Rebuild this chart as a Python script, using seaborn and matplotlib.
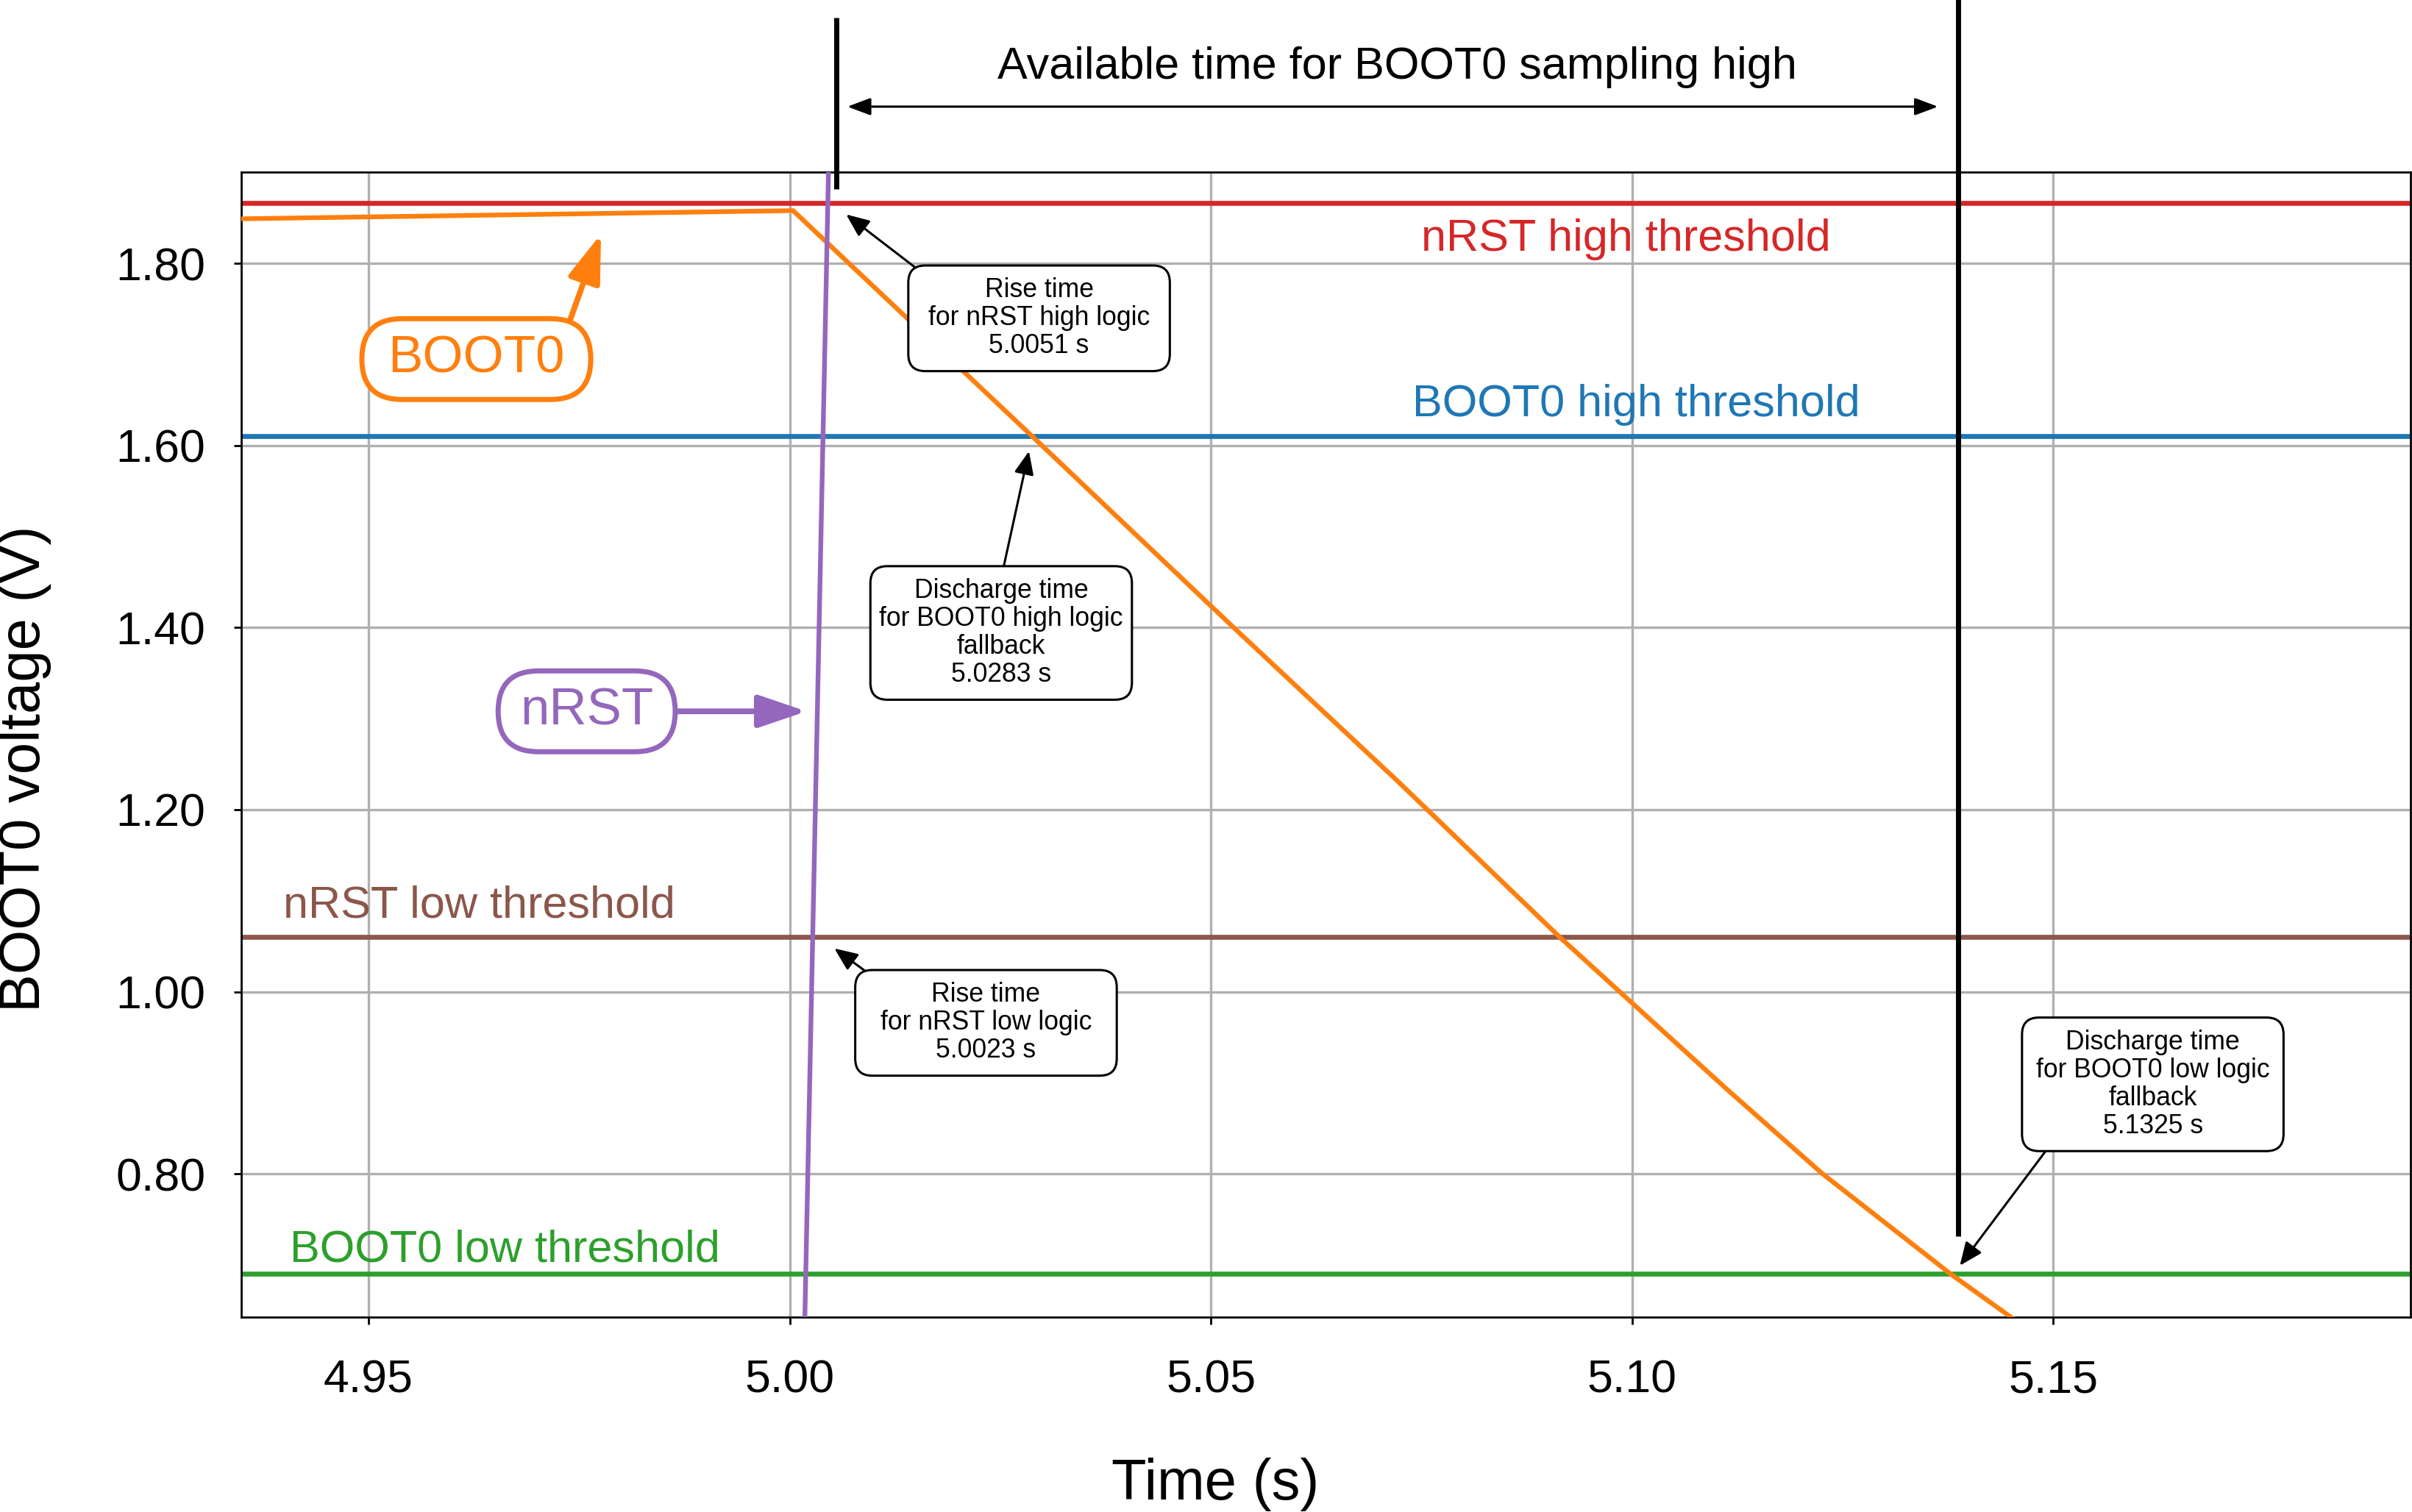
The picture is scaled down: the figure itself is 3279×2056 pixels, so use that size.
import matplotlib
matplotlib.use("Agg")
import matplotlib.pyplot as plt
from matplotlib.ticker import MultipleLocator, FormatStrFormatter
from matplotlib.path import Path
import pandas as pd
import seaborn as sns

# ---------------- data ----------------
boot0_t = [4.9349, 5.0004, 5.0288, 5.0527, 5.0722, 5.0914, 5.1082, 5.1114, 5.1226, 5.1378, 5.1452]
boot0_v = [1.849, 1.858, 1.610, 1.400, 1.231, 1.060, 0.9185, 0.8916, 0.800, 0.690, 0.641]

nrst_t = [5.0018, 5.0046]
nrst_v = [0.6426, 1.900]

threshold_names = ["nRST high threshold", "BOOT0 high threshold",
                   "nRST low threshold", "BOOT0 low threshold"]
threshold_values = [1.8665, 1.610, 1.060, 0.690]
threshold_colors = ["#d62728", "#1f77b4", "#8c564b", "#2ca02c"]
threshold_label_x = [5.0993, 5.1005, 4.9399, 4.9407]
threshold_label_y = [1.826, 1.645, 1.0944, 0.7161]
threshold_label_ha = ["center", "center", "left", "left"]

window_t = [5.0055, 5.1387]
window_bottom = [1.8818, 0.7314]
window_top = [2.0697, 2.10]
window_arrow_x = [5.00685, 5.1363]
window_arrow_y = 1.9722
window_title = "Available time for BOOT0 sampling high"
window_title_pos = (5.0721, 2.0032)

ann_texts = ["Rise time\nfor nRST high logic\n5.0051 s",
             "Discharge time\nfor BOOT0 high logic\nfallback\n5.0283 s",
             "Rise time\nfor nRST low logic\n5.0023 s",
             "Discharge time\nfor BOOT0 low logic\nfallback\n5.1325 s"]
ann_tip_t = [5.0067, 5.0284, 5.0053, 5.1389]
ann_tip_v = [1.8538, 1.5937, 1.0476, 0.6992]
ann_box_t = [5.0296, 5.0251, 5.0233, 5.1618]
ann_box_v = [1.7397, 1.3941, 0.9658, 0.8983]
ann_relpos = [(0.0, 1.0), (0.5, 1.0), (0.0, 1.0), (0.08, 0.0)]

series_labels = ["BOOT0", "nRST"]
series_colors = ["#ff7f0e", "#9467bd"]
series_label_pos = [(4.9628, 1.6949), (4.9759, 1.308)]
series_arrow_tip = [(4.9776, 1.8323), (5.0020, 1.308)]
series_relpos = [(1.0, 1.0), (1.0, 0.5)]

xlim = (4.9349, 5.1924)
ylim = (0.6426, 1.900)


# ---------------- rounded box with separate x / y padding ----------------
class RoundBox:
    def __init__(self, pad_x, pad_y, rounding, fixed_width=None):
        self.pad = pad_y
        self.pad_x = pad_x
        self.pad_y = pad_y
        self.rounding = rounding
        self.fixed_width = fixed_width

    def __call__(self, x0, y0, width, height, mutation_size):
        py = self.pad_y * mutation_size
        if self.fixed_width is not None:
            w = self.fixed_width * mutation_size
            x0 = x0 + width / 2 - w / 2
            width = w
        else:
            px = self.pad_x * mutation_size
            x0 -= px
            width += 2 * px
        y0 -= py
        height += 2 * py
        x1, y1 = x0 + width, y0 + height
        r = min(self.rounding * mutation_size, width / 2, height / 2)
        cp = [(x0 + r, y0), (x1 - r, y0), (x1, y0), (x1, y0 + r),
              (x1, y1 - r), (x1, y1), (x1 - r, y1), (x0 + r, y1),
              (x0, y1), (x0, y1 - r), (x0, y0 + r), (x0, y0),
              (x0 + r, y0), (x0 + r, y0)]
        codes = [Path.MOVETO, Path.LINETO, Path.CURVE3, Path.CURVE3,
                 Path.LINETO, Path.CURVE3, Path.CURVE3, Path.LINETO,
                 Path.CURVE3, Path.CURVE3, Path.LINETO, Path.CURVE3,
                 Path.CURVE3, Path.CLOSEPOLY]
        return Path(cp, codes)


# ---------------- styling ----------------
sns.set_theme(style="ticks")
plt.rcParams['font.family'] = ['Liberation Sans', 'DejaVu Sans']
plt.rcParams['axes.edgecolor'] = 'black'
plt.rcParams['axes.labelcolor'] = 'black'
plt.rcParams['xtick.color'] = 'black'
plt.rcParams['ytick.color'] = 'black'
plt.rcParams['text.color'] = 'black'

fig = plt.figure(figsize=(16.4, 10.28), dpi=200)
ax = fig.add_axes([0.1, 0.1289, 0.8991, 0.7571])

ax.grid(True, color='#b0b0b0', lw=1.2)
ax.set_axisbelow(True)

for v, c in zip(threshold_values, threshold_colors):
    ax.axhline(v, color=c, lw=2.4, zorder=2)
for name, c, x, y, ha in zip(threshold_names, threshold_colors,
                             threshold_label_x, threshold_label_y, threshold_label_ha):
    ax.text(x, y, name, color=c, fontsize=22, ha=ha, va='center', zorder=3)

df_boot = pd.DataFrame({'t': boot0_t, 'v': boot0_v})
df_nrst = pd.DataFrame({'t': nrst_t, 'v': nrst_v})
sns.lineplot(data=df_boot, x='t', y='v', color=series_colors[0], lw=2.3,
             ax=ax, sort=False, estimator=None, zorder=3)
sns.lineplot(data=df_nrst, x='t', y='v', color=series_colors[1], lw=2.3,
             ax=ax, sort=False, estimator=None, zorder=4)

for t, b, tp in zip(window_t, window_bottom, window_top):
    ax.plot([t, t], [b, tp], color='black', lw=2.5, clip_on=False, zorder=5,
            solid_capstyle='butt')

ax.annotate('', xy=(window_arrow_x[1], window_arrow_y),
            xytext=(window_arrow_x[0], window_arrow_y),
            arrowprops=dict(arrowstyle='<|-|>,head_length=0.4,head_width=0.15',
                            color='black', lw=1.1, shrinkA=0, shrinkB=0,
                            mutation_scale=24),
            annotation_clip=False)
ax.text(window_title_pos[0], window_title_pos[1], window_title,
        ha='center', va='baseline', fontsize=22.0, color='black', clip_on=False)

for txt, tt, tv, bt, bv, rp in zip(ann_texts, ann_tip_t, ann_tip_v,
                                   ann_box_t, ann_box_v, ann_relpos):
    ax.annotate(txt, xy=(tt, tv), xytext=(bt, bv), ha='center', va='center',
                fontsize=12.8, linespacing=1.11, zorder=6,
                bbox=dict(boxstyle=RoundBox(0.0, 0.46, 0.65, fixed_width=10.0),
                          fc='white', ec='black', lw=1.1),
                arrowprops=dict(arrowstyle='-|>,head_length=0.4,head_width=0.17',
                                color='black', lw=1.1, shrinkA=0, shrinkB=0,
                                mutation_scale=24, relpos=rp))

for lab, c, pos, tip, rp, px in zip(series_labels, series_colors, series_label_pos,
                                    series_arrow_tip, series_relpos, [0.5, 0.42]):
    ax.annotate(lab, xy=tip, xytext=pos, ha='center', va='center',
                fontsize=25.5, color=c, zorder=6,
                bbox=dict(boxstyle=RoundBox(px, 0.31, 0.78),
                          fc='white', ec=c, lw=2.5),
                arrowprops=dict(arrowstyle='-|>,head_length=0.5,head_width=0.17',
                                color=c, lw=2.8, shrinkA=0, shrinkB=0,
                                mutation_scale=40, relpos=rp))

ax.set_xlim(*xlim)
ax.set_ylim(*ylim)
ax.xaxis.set_major_locator(MultipleLocator(0.05))
ax.xaxis.set_major_formatter(FormatStrFormatter('%.2f'))
ax.yaxis.set_major_locator(MultipleLocator(0.2))
ax.yaxis.set_major_formatter(FormatStrFormatter('%.2f'))
ax.tick_params(labelsize=22.5, length=3.5, width=1.0, direction='out')
ax.tick_params(axis='x', pad=17)
ax.tick_params(axis='y', pad=14)
for s in ax.spines.values():
    s.set_linewidth(1.0)
    s.set_color('black')

ax.set_xlabel('Time (s)', fontsize=28, color='black')
ax.set_ylabel('BOOT0 voltage (V)', fontsize=28, color='black')
ax.xaxis.set_label_coords(0.449, -0.1225)
ax.yaxis.set_label_coords(-0.0875, 0.479)

fig.savefig('out.png', dpi=200)
